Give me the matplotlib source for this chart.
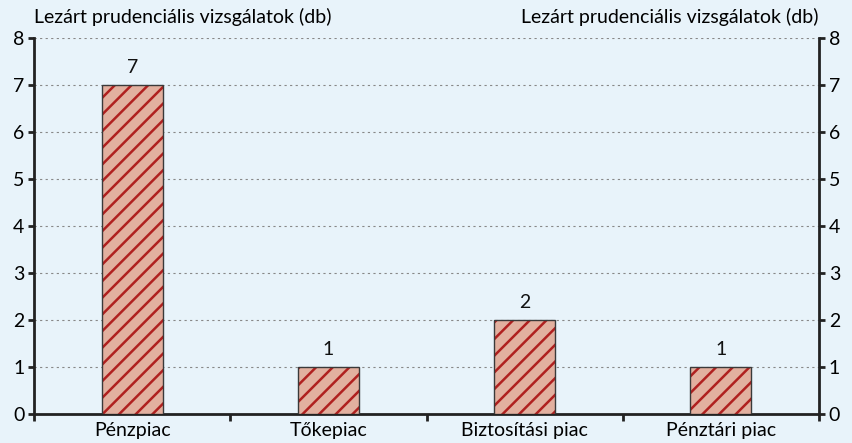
import matplotlib.pyplot as plt
import numpy as np

categories = ['Pénzpiac', 'Tőkepiac', 'Biztosítási piac', 'Pénztári piac']
values = [7, 1, 2, 1]
yticks = [0, 1, 2, 3, 4, 5, 6, 7, 8]
ylabel = 'Lezárt prudenciális vizsgálatok (db)'

bg = '#E8F3FA'
fs = 14
plt.rcParams['font.family'] = ['Lato', 'DejaVu Sans']
plt.rcParams['hatch.linewidth'] = 1.8

fig = plt.figure(figsize=(8.53, 4.43), dpi=100, facecolor=bg)
ax = fig.add_axes([0.0399, 0.0655, 0.9202, 0.8487], facecolor=bg)

x = np.arange(len(categories))
# fill + red hatch, then a grey outline on top
ax.bar(x, values, width=0.31, color='#E2B09F', edgecolor='#B0201F',
       linewidth=0, hatch='//', zorder=3)
ax.bar(x, values, width=0.31, fill=False, edgecolor='#3A3A3A',
       linewidth=1, zorder=4)
for xi, v in zip(x, values):
    ax.text(xi, v + 0.2, str(v), ha='center', va='bottom', fontsize=fs, color='#111111')

ax.set_xlim(-0.5, len(categories) - 0.5)
ax.set_ylim(0, 8)
ax.set_yticks(yticks)
ax.yaxis.grid(True, linestyle=(0, (2, 3)), color='#888888', linewidth=0.8, zorder=0)

# category boundaries as ticks, labels at the centres
ax.set_xticks(np.arange(-0.5, len(categories) + 0.5, 1))
ax.set_xticklabels([])
ax.set_xticks(x, minor=True)
ax.set_xticklabels(categories, minor=True, fontsize=fs)
ax.tick_params(axis='x', which='minor', length=0, pad=6)
ax.tick_params(axis='x', which='major', length=5, width=2, direction='out', color='#222222')
ax.tick_params(axis='y', length=4, width=2, labelsize=fs, color='#222222', pad=3)

for s in ['top', 'right']:
    ax.spines[s].set_visible(False)
for s in ['left', 'bottom']:
    ax.spines[s].set_linewidth(2)
    ax.spines[s].set_color('#222222')

ax2 = ax.twinx()
ax2.set_ylim(0, 8)
ax2.set_yticks(yticks)
ax2.tick_params(axis='y', length=4, width=2, labelsize=fs, color='#222222', pad=3)
for s in ['top', 'left', 'bottom']:
    ax2.spines[s].set_visible(False)
ax2.spines['right'].set_linewidth(2)
ax2.spines['right'].set_color('#222222')

fig.text(0.0399, 0.942, ylabel, ha='left', va='bottom', fontsize=fs)
fig.text(0.959, 0.942, ylabel, ha='right', va='bottom', fontsize=fs)

fig.savefig('out.png', dpi=100, facecolor=bg)
